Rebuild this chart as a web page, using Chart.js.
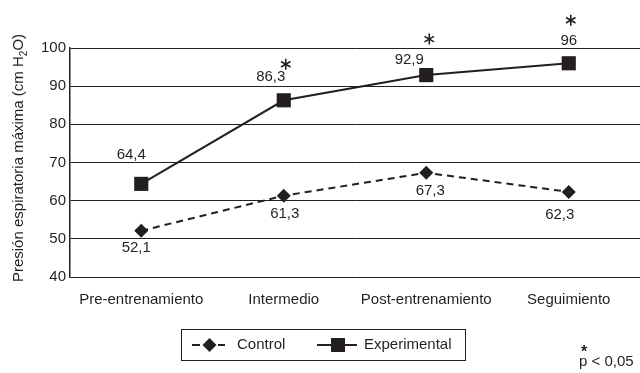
<!DOCTYPE html>
<html>
<head>
<meta charset="utf-8">
<script src="https://cdn.jsdelivr.net/npm/chart.js@4"></script>
<style>
  html, body { margin: 0; padding: 0; background: #fff; }
  #wrap { width: 640px; height: 373px; }
</style>
</head>
<body>
<div id="wrap"><canvas id="c" width="640" height="373"></canvas></div>
<script>
// Measurement phases
const phases = ['Pre-entrenamiento', 'Intermedio', 'Post-entrenamiento', 'Seguimiento'];
// Mean maximal expiratory pressure per group
const controlValues = [52.1, 61.3, 67.3, 62.3];
const experimentalValues = [64.4, 86.3, 92.9, 96];
// Phases with a significant difference (p < 0,05)
const significant = [false, true, true, true];
// Y axis ticks
const yTicks = [40, 50, 60, 70, 80, 90, 100];

const INK = '#231f20';
const FONT = '"Liberation Sans", Arial, sans-serif';

const fmt = v => String(v).replace('.', ',');

// Where each value label sits relative to its marker
const expLabelShift = [[-10, -29], [-13, -23], [-17, -15], [0, -22]];
const ctlLabelShift = [[-5, 17], [1, 18], [4, 18], [-9, 23]];
const starShift = [[0, 0], [2, -36], [3, -36], [2, -43]];

// Six-armed asterisk drawn with strokes
function drawStar(ctx, x, y, r) {
  ctx.save();
  ctx.strokeStyle = INK;
  ctx.lineWidth = 1.6;
  ctx.lineCap = 'butt';
  ctx.beginPath();
  for (let k = 0; k < 3; k++) {
    const a = Math.PI / 2 + k * Math.PI / 3;
    ctx.moveTo(x + r * Math.cos(a), y + r * Math.sin(a));
    ctx.lineTo(x - r * Math.cos(a), y - r * Math.sin(a));
  }
  ctx.stroke();
  ctx.restore();
}

const annotate = {
  id: 'annotate',
  afterDatasetsDraw(chart) {
    const ctx = chart.ctx;
    const ctl = chart.getDatasetMeta(0).data;
    const exp = chart.getDatasetMeta(1).data;
    ctx.save();
    ctx.fillStyle = INK;
    ctx.textAlign = 'center';
    ctx.textBaseline = 'middle';
    ctx.font = '15px ' + FONT;
    experimentalValues.forEach((v, i) => {
      const p = exp[i];
      ctx.fillText(fmt(v), p.x + expLabelShift[i][0], p.y + expLabelShift[i][1]);
    });
    controlValues.forEach((v, i) => {
      const p = ctl[i];
      ctx.fillText(fmt(v), p.x + ctlLabelShift[i][0], p.y + ctlLabelShift[i][1]);
    });
    significant.forEach((s, i) => {
      if (!s) return;
      const p = exp[i];
      drawStar(ctx, p.x + starShift[i][0], p.y + starShift[i][1], 5.5);
    });

    // Y axis title with subscript
    ctx.save();
    ctx.translate(19, 158);
    ctx.rotate(-Math.PI / 2);
    ctx.textAlign = 'left';
    ctx.textBaseline = 'middle';
    const a = 'Presión espiratoria máxima (cm H';
    const b = '2';
    const c = 'O)';
    ctx.font = '15px ' + FONT;
    const wa = ctx.measureText(a).width;
    ctx.font = '10px ' + FONT;
    const wb = ctx.measureText(b).width;
    ctx.font = '15px ' + FONT;
    const wc = ctx.measureText(c).width;
    let x = -(wa + wb + wc) / 2;
    ctx.fillText(a, x, 0);
    x += wa;
    ctx.font = '10px ' + FONT;
    ctx.fillText(b, x, 5);
    x += wb;
    ctx.font = '15px ' + FONT;
    ctx.fillText(c, x, 0);
    ctx.restore();

    // Legend box
    const bx = 181, by = 329, bw = 284, bh = 31;
    ctx.strokeStyle = INK;
    ctx.lineWidth = 1;
    ctx.strokeRect(bx + 0.5, by + 0.5, bw, bh);
    const cy = by + bh / 2 + 0.5;
    // Control entry: dashed line with diamond
    ctx.lineWidth = 2;
    ctx.beginPath();
    ctx.moveTo(192, cy); ctx.lineTo(200, cy);
    ctx.moveTo(218, cy); ctx.lineTo(225, cy);
    ctx.stroke();
    ctx.beginPath();
    ctx.moveTo(209.5, cy - 7); ctx.lineTo(216.5, cy); ctx.lineTo(209.5, cy + 7); ctx.lineTo(202.5, cy);
    ctx.closePath();
    ctx.fill();
    ctx.font = '15px ' + FONT;
    ctx.textAlign = 'left';
    ctx.fillText('Control', 237, cy);
    // Experimental entry: solid line with square
    ctx.beginPath();
    ctx.moveTo(317, cy); ctx.lineTo(357, cy);
    ctx.stroke();
    ctx.fillRect(331, cy - 7, 14, 14);
    ctx.fillText('Experimental', 364, cy);

    // Significance note
    ctx.font = '15px ' + FONT;
    ctx.fillText('p < 0,05', 579, 362);
    ctx.font = 'bold 16px ' + FONT;
    ctx.textAlign = 'center';
    ctx.fillText('*', 584, 353);
    ctx.restore();
  }
};

new Chart(document.getElementById('c'), {
  type: 'line',
  data: {
    labels: phases,
    datasets: [
      {
        label: 'Control',
        data: controlValues,
        borderColor: INK,
        backgroundColor: INK,
        borderWidth: 2,
        borderDash: [7, 5],
        pointStyle: 'rectRot',
        pointRadius: 7,
        pointHoverRadius: 7,
        pointBorderWidth: 0,
        tension: 0
      },
      {
        label: 'Experimental',
        data: experimentalValues,
        borderColor: INK,
        backgroundColor: INK,
        borderWidth: 2,
        pointStyle: 'rect',
        pointRadius: 10,
        pointHoverRadius: 10,
        pointBorderWidth: 0,
        tension: 0
      }
    ]
  },
  options: {
    responsive: false,
    animation: false,
    events: [],
    layout: { autoPadding: false, padding: { left: 0, right: 0, top: 48, bottom: 0 } },
    plugins: { legend: { display: false }, tooltip: { enabled: false } },
    scales: {
      x: {
        offset: true,
        afterFit: s => { s.height = 96; },
        grid: { display: false, drawTicks: false },
        border: { display: false },
        ticks: { color: INK, font: { family: FONT, size: 15 }, padding: 14, maxRotation: 0 }
      },
      y: {
        min: 40,
        max: 100,
        afterFit: s => { s.width = 70; },
        afterBuildTicks: axis => { axis.ticks = yTicks.map(v => ({ value: v })); },
        grid: { color: INK, lineWidth: 1, drawTicks: false },
        border: { display: true, color: INK, width: 1.5 },
        ticks: { color: INK, font: { family: FONT, size: 15 }, padding: 4 }
      }
    }
  },
  plugins: [annotate]
});
</script>
</body>
</html>
